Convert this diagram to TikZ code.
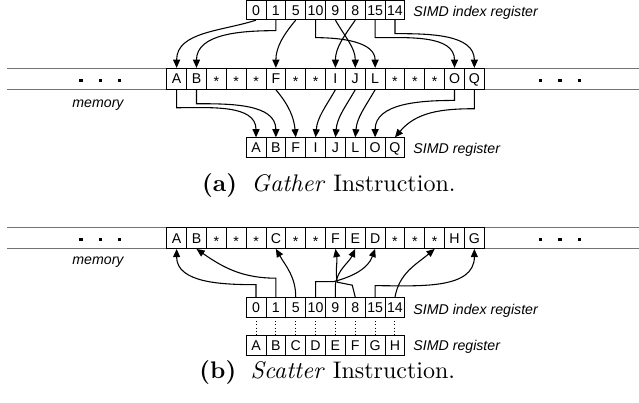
\documentclass[tikz,border=0pt]{standalone}
\usepackage{fontspec}
\setsansfont{Liberation Sans}
\usetikzlibrary{arrows.meta}
\newcommand\mstar{\raisebox{-1.3pt}{*}}
\begin{document}
\begin{tikzpicture}[x=0.41667pt,y=0.41667pt,
  cellbase/.style={draw=black, line width=0.35pt, inner sep=0pt, minimum width=8.27pt,
    text height=4.2pt, text depth=0pt, font=\sffamily\fontsize{5.9pt}{6pt}\selectfont},
  mcell/.style={cellbase, minimum height=8.75pt},
  rcell/.style={cellbase, minimum height=8.1pt},
  memline/.style={draw=black!55, line width=0.6pt},
  conn/.style={draw, line width=0.45pt, -{Triangle[length=3.4pt,width=2.9pt]}},
  dotline/.style={draw, densely dotted, line width=0.4pt},
  lbl/.style={inner sep=0pt, font=\sffamily\itshape\fontsize{5.9pt}{7pt}\selectfont},
  captext/.style={inner sep=0pt, font=\rmfamily\fontsize{10pt}{12pt}\selectfont},
  dotsq/.style={fill=black}]
\path[use as bounding box] (0,0) rectangle (639,-402);

% ---------------- (a) Gather ----------------
\draw[memline] (7.3,-68.3) -- (639,-68.3);
\draw[memline] (7.3,-89.3) -- (639,-89.3);
\foreach \x in {81,100.3,119.6,540.7,560,579.3}
  \fill[dotsq] (\x-1.65,-78.6) rectangle ++(3.3,-3.3);
\foreach \t [count=\i from 0] in {A,B,\mstar,\mstar,\mstar,F,\mstar,\mstar,I,J,L,\mstar,\mstar,\mstar,O,Q}
  \node[mcell] (m\i) at ({166.7+19.85*(\i+0.5)},-78.8) {\t};
\foreach \t [count=\j from 0] in {0,1,5,10,9,8,15,14}
  \node[rcell] (g\j) at ({166.7+19.85*(\j+4.5)},-10) {\t};
\foreach \t [count=\j from 0] in {A,B,F,I,J,L,O,Q}
  \node[rcell] (r\j) at ({166.7+19.85*(\j+4.5)},-147.5) {\t};

\node[lbl, anchor=base west] (la1) at (413,-16) {SIMD index register};
\node[lbl, anchor=base west] (la2) at (413,-153) {SIMD register};
\node[lbl, anchor=base] (la3) at (98,-107.3) {memory};

\draw[conn] (g0.south) to[out=198,in=90] (m0.north);
\draw[conn] (g1.south) -- ++(0,-10.5) to[out=180,in=90] (m1.north);
\draw[conn] (g2.south) to[out=230,in=90] (m5.north);
\draw[conn] (g3.south) -- ++(0,-17.5) to[out=0,in=90] (m10.north);
\draw[conn] (g4.south) to[out=-60,in=90] (m9.north);
\draw[conn] (g5.south) to[out=235,in=90] (m8.north);
\draw[conn] (g6.south) -- ++(0,-17.5) to[out=0,in=90] (m14.north);
\draw[conn] (g7.south) -- ++(0,-13.5) to[out=0,in=90] (m15.north);

\draw[conn] (m0.south) -- ++(0,-18) to[out=0,in=90] (r0.north);
\draw[conn] (m1.south) -- ++(0,-14) to[out=0,in=90] (r1.north);
\draw[conn] (m5.south) to[out=-50,in=95] (r2.north);
\draw[conn] (m8.south) to[out=240,in=85] (r3.north);
\draw[conn] (m9.south) to[out=240,in=85] (r4.north);
\draw[conn] (m10.south) to[out=240,in=85] (r5.north);
\draw[conn] (m14.south) -- ++(0,-10.7) to[out=180,in=90] (r6.north);
\draw[conn] (m15.south) -- ++(0,-19) to[out=180,in=50] (r7.north);

\node[captext, anchor=base west] (capa) at (201.7,-191.7) {\textbf{(a)}\hspace{6pt}\textit{Gather} Instruction.};

% ---------------- (b) Scatter ----------------
\draw[memline] (7.3,-227.5) -- (639,-227.5);
\draw[memline] (7.3,-248.5) -- (639,-248.5);
\foreach \x in {81,100.3,119.6,540.7,560,579.3}
  \fill[dotsq] (\x-1.65,-237.6) rectangle ++(3.3,-3.3);
\foreach \t [count=\i from 0] in {A,B,\mstar,\mstar,\mstar,C,\mstar,\mstar,F,E,D,\mstar,\mstar,\mstar,H,G}
  \node[mcell] (n\i) at ({166.7+19.85*(\i+0.5)},-238) {\t};
\foreach \t [count=\j from 0] in {0,1,5,10,9,8,15,14}
  \node[rcell] (s\j) at ({166.7+19.85*(\j+4.5)},-307.3) {\t};
\foreach \t [count=\j from 0] in {A,B,C,D,E,F,G,H}
  \node[rcell] (t\j) at ({166.7+19.85*(\j+4.5)},-345.5) {\t};

\node[lbl, anchor=base west] (lb1) at (413,-314) {SIMD index register};
\node[lbl, anchor=base west] (lb2) at (413,-350.7) {SIMD register};
\node[lbl, anchor=base] (lb3) at (98,-264) {memory};

\foreach \j in {0,...,7}
  \draw[dotline] (s\j.south) -- (t\j.north);

\draw[conn] (s0.north) -- ++(0,12.5) to[out=180,in=-90] (n0.south);
\draw[conn] (s1.north) -- ++(0,19) to[out=180,in=-35] (n1.south);
\draw[conn] (s2.north) to[out=90,in=-60] (n5.south);
\draw[conn] (s3.north) -- ++(0,15.5) -- ++(18,0) to[out=15,in=-110] (n10.south);
\draw[conn] (s4.north) -- ++(0,13) to[out=80,in=-115] (n9.south);
\draw[conn] (s5.north) -- ++(-3,12) -- ++(-15,3) to[out=100,in=-80] (n8.south);
\draw[conn] (s6.north) -- ++(0,11.5) to[out=0,in=-90] (n15.south);
\draw[conn] (s7.north) to[out=80,in=-140] (n13.south);

\node[captext, anchor=base west] (capb) at (199,-378) {\textbf{(b)}\hspace{6pt}\textit{Scatter} Instruction.};
\end{tikzpicture}
\end{document}
